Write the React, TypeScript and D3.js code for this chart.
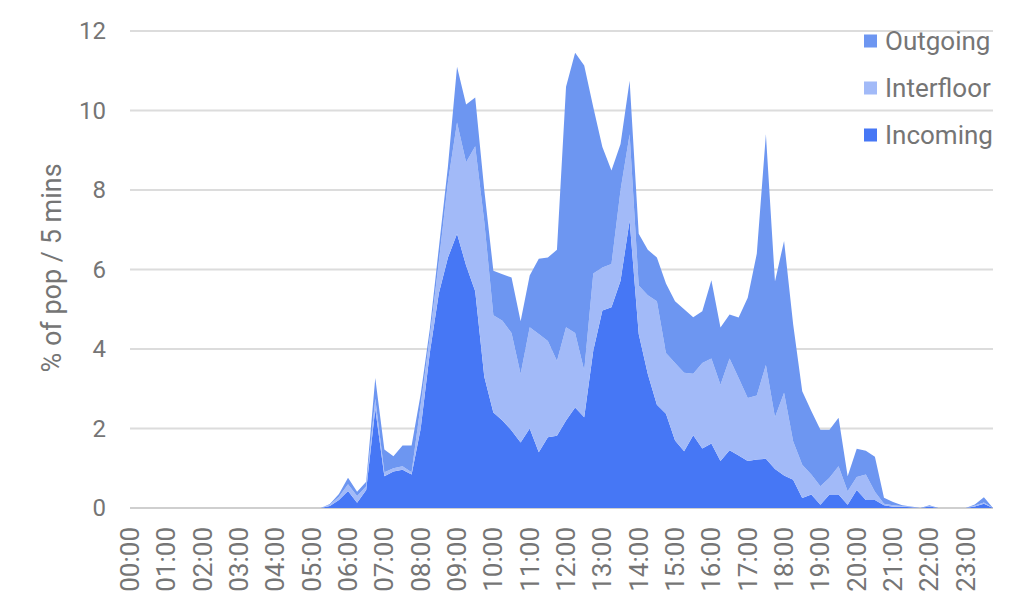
import React from "react";
import * as d3 from "d3";

// 15-minute slots 00:00 .. 23:45 (96 points)
const hourLabels = [
  "00:00","01:00","02:00","03:00","04:00","05:00","06:00","07:00",
  "08:00","09:00","10:00","11:00","12:00","13:00","14:00","15:00",
  "16:00","17:00","18:00","19:00","20:00","21:00","22:00","23:00",
];

const incoming = [
  0,0,0,0, 0,0,0,0, 0,0,0,0, 0,0,0,0, 0,0,0,0, 0,0,0.05,0.20,
  0.43,0.13,0.45,2.50, 0.80,0.92,0.96,0.84, 2.00,3.90,5.40,6.30,
  6.90,6.10,5.45,3.30, 2.40,2.20,1.95,1.65, 2.00,1.40,1.78,1.82,
  2.20,2.53,2.28,3.96, 4.97,5.05,5.72,7.23, 4.38,3.37,2.60,2.37,
  1.70,1.43,1.83,1.50, 1.62,1.18,1.45,1.32, 1.18,1.22,1.24,0.98,
  0.82,0.71,0.25,0.34, 0.08,0.34,0.34,0.08, 0.45,0.20,0.20,0.07,
  0.03,0.03,0.02,0, 0.04,0,0,0, 0,0.04,0.11,0,
];

const interfloor = [
  0,0,0,0, 0,0,0,0, 0,0,0,0, 0,0,0,0, 0,0,0,0, 0,0,0.03,0.08,
  0.17,0.17,0.10,0.25, 0.10,0.08,0.09,0.06, 0.60,0.40,0.80,1.90,
  2.80,2.60,3.65,3.90, 2.45,2.51,2.45,1.72, 2.55,2.98,2.42,1.88,
  2.35,1.87,1.18,1.94, 1.08,1.09,2.28,2.17, 1.22,1.98,2.60,1.53,
  1.95,1.97,1.55,2.15, 2.14,1.92,2.31,1.95, 1.59,1.61,2.36,1.30,
  2.08,0.97,0.84,0.50, 0.47,0.42,0.71,0.34, 0.33,0.64,0.21,0.04,
  0.04,0.02,0.01,0, 0.01,0,0,0, 0,0.02,0.03,0,
];

const outgoing = [
  0,0,0,0, 0,0,0,0, 0,0,0,0, 0,0,0,0, 0,0,0,0, 0,0,0.02,0.07,
  0.16,0.11,0.11,0.52, 0.57,0.30,0.52,0.67, 0.26,0.20,0.35,0.40,
  1.40,1.45,1.23,0.80, 1.12,1.17,1.40,1.33, 1.30,1.89,2.10,2.80,
  6.05,7.05,7.67,4.18, 3.03,2.35,1.16,1.35, 1.30,1.15,1.10,1.75,
  1.55,1.60,1.42,1.30, 1.97,1.44,1.11,1.52, 2.52,3.57,5.80,3.42,
  3.82,2.94,1.85,1.60, 1.42,1.21,1.22,0.38, 0.71,0.60,0.88,0.15,
  0.08,0.02,0.01,0, 0.02,0,0,0, 0,0.03,0.13,0,
];

const yTicks = [0, 2, 4, 6, 8, 10, 12];

const seriesKeys = ["incoming", "interfloor", "outgoing"];
const seriesNames: Record<string, string> = {
  incoming: "Incoming",
  interfloor: "Interfloor",
  outgoing: "Outgoing",
};
const colors: Record<string, string> = {
  incoming: "#4677F5",
  interfloor: "#A2BAF8",
  outgoing: "#6D96F1",
};
const legendOrder = ["outgoing", "interfloor", "incoming"];

export default function App() {
  const W = 1024;
  const H = 614;
  const left = 130;
  const right = 993;
  const top = 31;
  const bottom = 508;

  const x = d3.scaleLinear().domain([0, incoming.length - 1]).range([left, right]);
  const y = d3.scaleLinear().domain([0, 12]).range([bottom, top]);

  const rows = incoming.map((v, i) => ({
    i,
    incoming: v,
    interfloor: interfloor[i],
    outgoing: outgoing[i],
  }));
  const stacked = d3.stack<any>().keys(seriesKeys)(rows);
  const area = d3
    .area<any>()
    .x((d: any) => x(d.data.i))
    .y0((d: any) => y(d[0]))
    .y1((d: any) => y(d[1]));

  const textColor = "#757575";
  const font = "Roboto, 'Noto Sans', Arial, sans-serif";

  return (
    <svg
      width={W}
      height={H}
      style={{ position: "absolute", left: 0, top: 0, background: "#fff" }}
      fontFamily={font}
    >
      {/* gridlines */}
      {yTicks.map((t) => (
        <line
          key={t}
          x1={left}
          x2={right}
          y1={y(t)}
          y2={y(t)}
          stroke={t === 0 ? "#cfcfcf" : "#dcdcdc"}
          strokeWidth={2}
        />
      ))}
      {/* areas */}
      {stacked.map((s: any) => (
        <path key={s.key} d={area(s) || ""} fill={colors[s.key]} stroke="none" />
      ))}
      {/* y tick labels */}
      {yTicks.map((t) => (
        <text
          key={t}
          x={106}
          y={y(t)}
          textAnchor="end"
          dominantBaseline="central"
          fontSize={24}
          fill={textColor}
        >
          {t}
        </text>
      ))}
      {/* x tick labels */}
      {hourLabels.map((lab, h) => (
        <text
          key={lab}
          transform={`translate(${x(h * 4)},527) rotate(-90)`}
          textAnchor="end"
          dominantBaseline="central"
          fontSize={26}
          fill={textColor}
        >
          {lab}
        </text>
      ))}
      {/* y axis title */}
      <text
        transform={`translate(52,268) rotate(-90)`}
        textAnchor="middle"
        dominantBaseline="central"
        fontSize={27}
        fill={textColor}
      >
        % of pop / 5 mins
      </text>
      {/* legend */}
      {legendOrder.map((k, j) => {
        const cy = 41 + j * 47;
        return (
          <g key={k}>
            <rect x={864} y={cy - 6.5} width={13} height={13} fill={colors[k]} />
            <text
              x={885}
              y={cy}
              dominantBaseline="central"
              fontSize={26}
              fill={textColor}
            >
              {seriesNames[k]}
            </text>
          </g>
        );
      })}
    </svg>
  );
}
